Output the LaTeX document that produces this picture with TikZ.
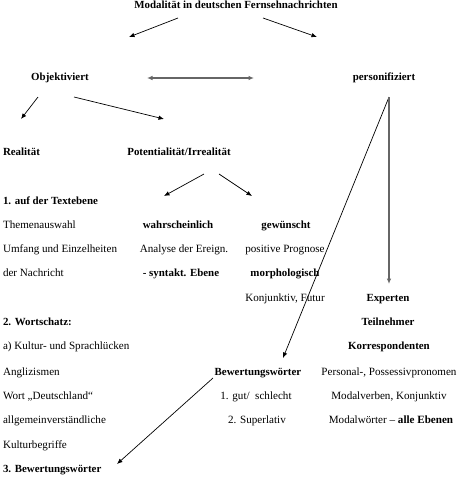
\documentclass[tikz,border=0pt]{standalone}
\usepackage{fontspec}
\setmainfont{Liberation Serif}
\usetikzlibrary{arrows.meta}
\begin{document}
\begin{tikzpicture}[x=1pt,y=-1pt,
  every node/.style={inner sep=0pt,outer sep=0pt,font=\fontsize{11.1}{13}\selectfont,text height=7pt,text depth=2pt},
  lt/.style={anchor=west},
  bf/.style={font=\fontsize{10.9}{13}\selectfont\bfseries},
  arr/.style={-{Latex[length=5.5pt,width=4.5pt]},line width=0.7pt,black},
  garr/.style={-{Latex[length=5.5pt,width=4.5pt]},line width=1.3pt,black!60},
  gline/.style={{Latex[length=5.5pt,width=4.5pt]}-{Latex[length=5.5pt,width=4.5pt]},line width=1.3pt,black!60}]
\useasboundingbox (0,0) rectangle (470,485);
\fill[white] (0,0) rectangle (470,485);
% texts
\node[bf] (title) at (236,6) {Modalität in deutschen Fernsehnachrichten};
\node[bf] (obj) at (60,78) {Objektiviert};
\node[bf] (pers) at (384,78) {personifiziert};
\node[bf,lt] (real) at (3,153) {Realität};
\node[bf] (pot) at (179,153) {Potentialität/Irrealität};
\node[bf,lt] (t1) at (3,202) {1. auf der Textebene};
\node[lt] (themen) at (3,226) {Themenauswahl};
\node[bf] (wahr) at (178,226) {wahrscheinlich};
\node[bf] (gew) at (286,226) {gewünscht};
\node[lt] (umfang) at (3,250) {Umfang und Einzelheiten};
\node (analyse) at (184,250) {Analyse der Ereign.};
\node (prog) at (285,250) {positive Prognose};
\node[lt] (nachr) at (3,274) {der Nachricht};
\node[bf] (synt) at (181,274) {- syntakt. Ebene};
\node[bf] (morph) at (285,274) {morphologisch};
\node (konj) at (285,299) {Konjunktiv, Futur};
\node[bf] (exp) at (388,299) {Experten};
\node[bf,lt] (wort) at (3,323) {2. Wortschatz:};
\node[bf] (teil) at (388,323) {Teilnehmer};
\node[lt] (kultur) at (3,347) {a) Kultur- und Sprachlücken};
\node[bf] (korr) at (389,347) {Korrespondenten};
\node[lt] (angl) at (3,373) {Anglizismen};
\node[bf] (bew) at (258,373) {Bewertungswörter};
\node (perspron) at (389,373) {Personal-, Possessivpronomen};
\node[lt] (deutsch) at (3,397) {Wort „Deutschland“};
\node (gut) at (256,397) {1. gut/\ \ schlecht};
\node (modv) at (389,397) {Modalverben, Konjunktiv};
\node[lt] (allg) at (3,421) {allgemeinverständliche};
\node (sup) at (257,421) {2. Superlativ};
\node (modw) at (391,421) {Modalwörter – \textbf{alle Ebenen}};
\node[lt] (kb) at (3,446) {Kulturbegriffe};
\node[bf,lt] (b3) at (3,470) {3. Bewertungswörter};
% connector end points
\coordinate (c1s) at (178,18); \coordinate (c1e) at (129,37);
\coordinate (c2s) at (263,18); \coordinate (c2e) at (317,37);
\coordinate (c3s) at (147,78); \coordinate (c3e) at (254,78);
\coordinate (c4s) at (38,97);  \coordinate (c4e) at (21,119);
\coordinate (c5s) at (74,97);  \coordinate (c5e) at (164,119);
\coordinate (c6s) at (204,174); \coordinate (c6e) at (164,196);
\coordinate (c7s) at (219,174); \coordinate (c7e) at (252,196);
\coordinate (c8s) at (389,97); \coordinate (c8e) at (283,358);
\coordinate (c9e) at (389,284);
\coordinate (c10s) at (213,378); \coordinate (c10e) at (117,464);
% connectors
\draw[arr] (c1s) -- (c1e);
\draw[arr] (c2s) -- (c2e);
\draw[gline] (c3s) -- (c3e);
\draw[arr] (c4s) -- (c4e);
\draw[arr] (c5s) -- (c5e);
\draw[arr] (c6s) -- (c6e);
\draw[arr] (c7s) -- (c7e);
\draw[arr] (c8s) -- (c8e);
\draw[garr] (c8s) -- (c9e);
\draw[arr] (c10s) -- (c10e);
\end{tikzpicture}
\end{document}
